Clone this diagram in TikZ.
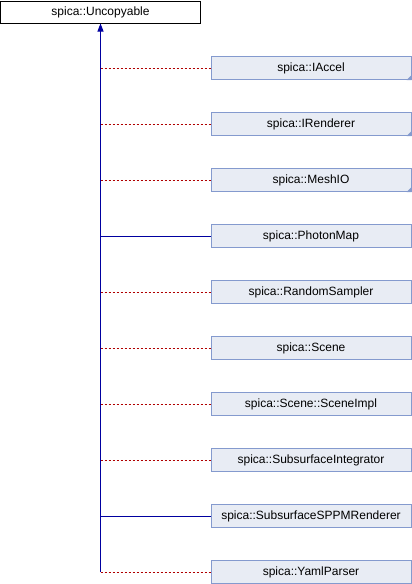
\documentclass[tikz,border=0pt]{standalone}
\usepackage{fontspec}
\setmainfont{Liberation Sans}
\usepackage{tikz}
\usetikzlibrary{arrows.meta}

\definecolor{boxfill}{RGB}{232,236,244}
\definecolor{boxline}{RGB}{132,154,206}
\definecolor{pubblue}{RGB}{0,0,160}
\definecolor{privred}{RGB}{176,0,0}

\begin{document}
\begin{tikzpicture}[
  x=1pt, y=-1pt, line width=1pt,
  base/.style={draw=black,fill=white,minimum width=200pt,minimum height=22pt,inner sep=0pt},
  cls/.style={draw=boxline,fill=boxfill,minimum width=200pt,minimum height=23pt,inner sep=0pt},
  pub/.style={draw=pubblue},
  priv/.style={draw=privred,dash pattern=on 2pt off 2pt},
  every node/.style={font=\fontsize{12}{14}\selectfont}
]
  \useasboundingbox (0,0) rectangle (412,584);
  \node[base] (unc) at (100.5,12) {spica::Uncopyable};
  \node[cls] (ia) at (311,68) {spica::IAccel};
  \node[cls] (ir) at (311,124) {spica::IRenderer};
  \node[cls] (mio) at (311,180) {spica::MeshIO};
  \node[cls] (pm) at (311,236) {spica::PhotonMap};
  \node[cls] (rs) at (311,292) {spica::RandomSampler};
  \node[cls] (sc) at (311,348) {spica::Scene};
  \node[cls] (sci) at (311,404) {spica::Scene::SceneImpl};
  \node[cls] (ssi) at (311,460) {spica::SubsurfaceIntegrator};
  \node[cls] (ssr) at (311,516) {spica::SubsurfaceSPPMRenderer};
  \node[cls] (yp) at (311,572) {spica::YamlParser};
  % corner marks: classes with further children
  \fill[boxline] (ia.south east) -- ++(-5pt,0) -- ++(5pt,5pt) -- cycle;
  \fill[boxline] (ir.south east) -- ++(-5pt,0) -- ++(5pt,5pt) -- cycle;
  \fill[boxline] (mio.south east) -- ++(-5pt,0) -- ++(5pt,5pt) -- cycle;
  % trunk
  \draw[pub,{Triangle[width=6pt,length=8pt]}-] (unc.south) -- (unc.south |- yp.west);
  \draw[priv] (unc.south |- ia.west) -- (ia.west);
  \draw[priv] (unc.south |- ir.west) -- (ir.west);
  \draw[priv] (unc.south |- mio.west) -- (mio.west);
  \draw[pub] (unc.south |- pm.west) -- (pm.west);
  \draw[priv] (unc.south |- rs.west) -- (rs.west);
  \draw[priv] (unc.south |- sc.west) -- (sc.west);
  \draw[priv] (unc.south |- sci.west) -- (sci.west);
  \draw[priv] (unc.south |- ssi.west) -- (ssi.west);
  \draw[pub] (unc.south |- ssr.west) -- (ssr.west);
  \draw[priv] (unc.south |- yp.west) -- (yp.west);
\end{tikzpicture}
\end{document}
